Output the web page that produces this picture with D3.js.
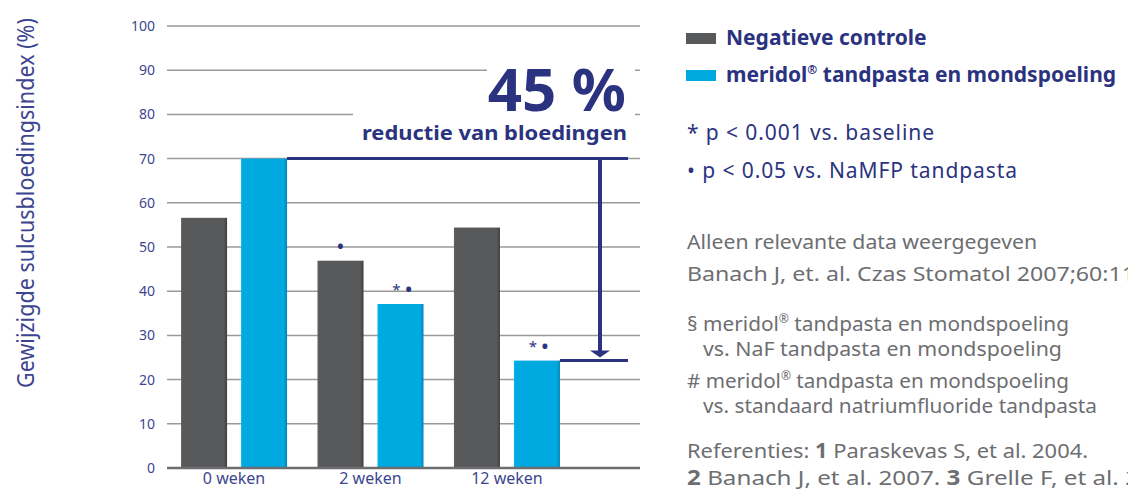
<!DOCTYPE html>
<html>
<head>
<meta charset="utf-8">
<script src="https://cdn.jsdelivr.net/npm/d3@7"></script>
<style>
  body { margin: 0; background: #fff; }
  svg { display: block; font-family: "Noto Sans", sans-serif; }
</style>
</head>
<body>
<svg id="chart" width="1128" height="490"></svg>
<script>
const categories = ["0 weken", "2 weken", "12 weken"]
const seriesNames = ["Negatieve controle", "meridol® tandpasta en mondspoeling"]
const controlValues = [56.6, 46.9, 54.4]
const meridolValues = [70.0, 37.1, 24.3]
const controlMarks = ["", "•", ""]
const meridolMarks = ["", "*•", "*•"]
const yTicks = [0, 10, 20, 30, 40, 50, 60, 70, 80, 90, 100]

const NAVY = "#2b3380"
const GREY_TEXT = "#6d6e71"
const colors = ["#58595b", "#00a9e0"]
const edges = ["#3c3d3f", "#0083b5"]

const svg = d3.select("#chart")
const defs = svg.append("defs")
colors.forEach(function(c, i) {
  const g = defs.append("linearGradient").attr("id", "bar" + i)
  g.append("stop").attr("offset", "0%").attr("stop-color", d3.color(c).brighter(0.25))
  g.append("stop").attr("offset", "4%").attr("stop-color", c)
  g.append("stop").attr("offset", "93%").attr("stop-color", c)
  g.append("stop").attr("offset", "100%").attr("stop-color", edges[i])
})

// scales
const y = d3.scaleLinear().domain([0, 100]).range([468, 26])
const x0 = d3.scaleBand().domain(categories).range([167, 574]).paddingInner(0.223).paddingOuter(0.103)
const x1 = d3.scaleBand().domain(seriesNames).range([0, x0.bandwidth()]).paddingInner(0.233)

// grid
const grid = svg.append("g")
grid.selectAll("line").data(yTicks.filter(d => d > 0)).join("line")
  .attr("x1", 167).attr("x2", 640)
  .attr("y1", d => y(d)).attr("y2", d => y(d))
  .attr("stroke", "#9a9a9c").attr("stroke-width", 1.5)

// y axis labels
const yAxis = d3.axisLeft(y).tickValues(yTicks).tickSize(0).tickPadding(0)
svg.append("g").attr("transform", "translate(155,0)").call(yAxis)
  .call(g => g.select(".domain").remove())
  .selectAll("text").attr("font-size", 14).attr("fill", "#3d4590")
  .attr("font-family", "Noto Sans, sans-serif")

svg.append("text")
  .attr("transform", "translate(34,203) rotate(-90)")
  .attr("text-anchor", "middle")
  .attr("font-size", 23).attr("fill", "#3d4590")
  .attr("textLength", 370).attr("lengthAdjust", "spacingAndGlyphs")
  .text("Gewijzigde sulcusbloedingsindex (%)")

// bars
const rows = categories.map((c, i) => ({cat: c, vals: [controlValues[i], meridolValues[i]], marks: [controlMarks[i], meridolMarks[i]]}))
const groups = svg.append("g").selectAll("g").data(rows).join("g")
  .attr("transform", d => "translate(" + x0(d.cat) + ",0)")

groups.selectAll("rect").data(d => d.vals.map((v, i) => ({v: v, i: i}))).join("rect")
  .attr("x", d => x1(seriesNames[d.i]))
  .attr("width", x1.bandwidth())
  .attr("y", d => y(d.v))
  .attr("height", d => y(0) - y(d.v))
  .attr("fill", d => "url(#bar" + d.i + ")")

const marks = groups.selectAll("text.mark").data(d => d.vals.map((v, i) => ({v: v, i: i, m: d.marks[i]}))).join("text")
  .attr("class", "mark")
  .attr("x", d => x1(seriesNames[d.i]) + x1.bandwidth() / 2 + (d.m.length > 1 ? 2 : 0))
  .attr("y", d => y(d.v) - 7)
  .attr("text-anchor", "middle")
  .attr("fill", NAVY)
marks.each(function(d) {
  const t = d3.select(this)
  d.m.split("").forEach(function(ch) {
    if (ch === "*") t.append("tspan").attr("font-size", 15).attr("dy", -2).text("* ")
    else t.append("tspan").attr("font-size", 22).attr("dy", ch === d.m[0] ? 0 : 2).text(ch)
  })
})

// x axis baseline
svg.append("line").attr("x1", 167).attr("x2", 640).attr("y1", y(0)).attr("y2", y(0))
  .attr("stroke", "#6d6e71").attr("stroke-width", 2.5)

const xAxis = d3.axisBottom(x0).tickSize(0).tickPadding(5)
svg.append("g").attr("transform", "translate(0," + y(0) + ")").call(xAxis)
  .call(g => g.select(".domain").remove())
  .selectAll("text").attr("font-size", 16).attr("fill", "#3d4590")
  .attr("font-family", "Noto Sans, sans-serif")

// reduction arrow
const topY = y(meridolValues[0])
const lowY = y(meridolValues[2])
const arrowX = 600
const bar0Right = x0(categories[0]) + x1(seriesNames[1]) + x1.bandwidth()
const bar2Right = x0(categories[2]) + x1(seriesNames[1]) + x1.bandwidth()
const arrow = svg.append("g").attr("stroke", NAVY).attr("fill", "none")
arrow.append("line").attr("x1", bar0Right).attr("x2", 628).attr("y1", topY).attr("y2", topY).attr("stroke-width", 3)
arrow.append("line").attr("x1", bar2Right).attr("x2", 628).attr("y1", lowY).attr("y2", lowY).attr("stroke-width", 3)
arrow.append("line").attr("x1", arrowX).attr("x2", arrowX).attr("y1", topY).attr("y2", lowY - 8).attr("stroke-width", 4)
svg.append("path")
  .attr("d", d3.line()([[arrowX - 10, lowY - 10], [arrowX + 10, lowY - 10], [arrowX, lowY - 3]]) + "Z")
  .attr("fill", NAVY)

// callout text with white backing
svg.append("rect").attr("x", 487).attr("y", 60).attr("width", 148).attr("height", 60).attr("fill", "#fff")
svg.append("rect").attr("x", 353).attr("y", 108).attr("width", 282).attr("height", 40).attr("fill", "#fff")
svg.append("text").attr("x", 626).attr("y", 111).attr("text-anchor", "end")
  .attr("font-size", 60).attr("font-weight", "bold").attr("fill", NAVY)
  .text("45 %")
svg.append("text").attr("x", 627).attr("y", 140).attr("text-anchor", "end")
  .attr("font-size", 20).attr("font-weight", "bold").attr("fill", NAVY)
  .attr("textLength", 265).attr("lengthAdjust", "spacingAndGlyphs")
  .text("reductie van bloedingen")

// legend
const legend = svg.append("g")
const legendY = [38, 75]
const legendW = [191, 386]
legend.selectAll("rect").data(seriesNames).join("rect")
  .attr("x", 686).attr("y", (d, i) => legendY[i] - 5).attr("width", 30).attr("height", 11)
  .attr("fill", (d, i) => colors[i])
const lt = legend.selectAll("text").data(seriesNames).join("text")
  .attr("x", 726).attr("y", (d, i) => legendY[i] + 7)
  .attr("font-size", 21).attr("font-weight", "bold").attr("fill", NAVY)
lt.each(function(d) {
  const t = d3.select(this)
  const parts = d.split("®")
  t.append("tspan").text(parts[0])
  if (parts.length > 1) {
    t.append("tspan").attr("font-size", 12).attr("dy", -8).text("®")
    t.append("tspan").attr("dy", 8).text(parts[1])
  }
})

// footnotes
const sigNotes = ["* p < 0.001 vs. baseline", "• p < 0.05 vs. NaMFP tandpasta"]
const sigW = [247, 330]
svg.append("g").selectAll("text").data(sigNotes).join("text")
  .attr("x", 687).attr("y", (d, i) => 140 + i * 38)
  .attr("font-size", 21).attr("fill", NAVY)
  .attr("textLength", (d, i) => sigW[i]).attr("lengthAdjust", "spacing")
  .text(d => d)

const grey = svg.append("g").attr("fill", GREY_TEXT).attr("font-size", 20.5)
function line(x, yy, w) {
  return grey.append("text").attr("x", x).attr("y", yy)
    .attr("textLength", w).attr("lengthAdjust", "spacingAndGlyphs")
}
line(687, 249, 350).text("Alleen relevante data weergegeven")
line(687, 281, 448).text("Banach J, et. al. Czas Stomatol 2007;60:11")

function reg(x, yy, w, lead, rest) {
  const t = line(x, yy, w)
  t.append("tspan").text(lead)
  t.append("tspan").attr("font-size", 12).attr("dy", -8).text("®")
  t.append("tspan").attr("dy", 8).text(rest)
}
reg(687, 331, 382, "§ meridol", " tandpasta en mondspoeling")
line(703, 356, 359).text("vs. NaF tandpasta en mondspoeling")
reg(687, 388, 382, "# meridol", " tandpasta en mondspoeling")
line(703, 413, 394).text("vs. standaard natriumfluoride tandpasta")

const ref1 = line(687, 458, 401)
ref1.append("tspan").text("Referenties: ")
ref1.append("tspan").attr("font-weight", "bold").text("1")
ref1.append("tspan").text(" Paraskevas S, et al. 2004.")
const ref2 = line(687, 485, 500)
ref2.append("tspan").attr("font-weight", "bold").text("2")
ref2.append("tspan").text(" Banach J, et al. 2007. ")
ref2.append("tspan").attr("font-weight", "bold").text("3")
ref2.append("tspan").text(" Grelle F, et al. 2010.")
</script>
</body>
</html>
